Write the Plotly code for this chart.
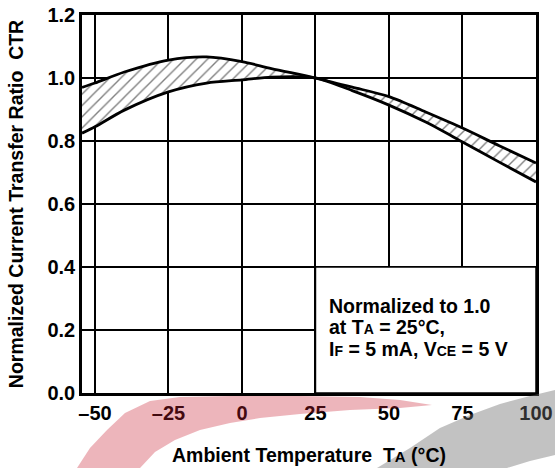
import plotly.graph_objects as go

# ---- data ----
temp = [-54.4, -50, -40, -25, -12, 0, 10, 25, 37.5, 50, 62.5, 75, 87.5, 100]
ctr_upper = [0.970, 0.984, 1.019, 1.057, 1.067, 1.052, 1.030, 1.000, 0.971, 0.941, 0.892, 0.841, 0.785, 0.730]
ctr_lower = [0.825, 0.845, 0.898, 0.956, 0.984, 0.994, 1.003, 1.000, 0.960, 0.914, 0.860, 0.797, 0.733, 0.670]

x_ticks = [-50, -25, 0, 25, 50, 75, 100]
x_ticktext = ["\u201350", "\u201325", "0", "25", "50", "75", "100"]
y_ticks = [0.0, 0.2, 0.4, 0.6, 0.8, 1.0, 1.2]
y_ticktext = ["0.0", "0.2", "0.4", "0.6", "0.8", "1.0", "1.2"]

note_lines = [
    "Normalized to 1.0",
    'at T<span style="font-size:14px">A</span> = 25°C,',
    'I<span style="font-size:14px">F</span> = 5 mA, V<span style="font-size:14px">CE</span> = 5 V',
]

FONT = "Liberation Sans, Arial, sans-serif"
W, H = 555, 468
ML, MR, MT, MB = 82, 19, 15, 75

fig = go.Figure()
fig.add_trace(go.Scatter(
    x=temp, y=ctr_lower, mode="lines",
    line=dict(color="black", width=2.8, shape="spline", smoothing=0.8),
    showlegend=False, hoverinfo="skip"))
fig.add_trace(go.Scatter(
    x=temp, y=ctr_upper, mode="lines", fill="tonexty",
    fillcolor="white",
    fillpattern=dict(shape="/", size=8, solidity=0.17, fgcolor="black", bgcolor="white"),
    line=dict(color="black", width=2.8, shape="spline", smoothing=0.8),
    showlegend=False, hoverinfo="skip"))

# white box for the note (covers gridlines)
fig.add_shape(type="rect", xref="x", yref="y", x0=25, x1=100, y0=0, y1=0.4,
              fillcolor="white", line=dict(color="black", width=1.5), layer="between")

note_y_px = [306, 327, 349]
for txt, py in zip(note_lines, note_y_px):
    fig.add_annotation(text=txt, xref="x", yref="paper", x=29,
                       y=(H - MB - py) / (H - MT - MB),
                       xanchor="left", yanchor="middle", showarrow=False,
                       font=dict(family=FONT, size=19.5, color="black", weight="bold"))

# decorative watermark swooshes (page pixel geometry)
def px_path(pts):
    pw, ph = W - ML - MR, H - MT - MB
    s = ""
    for i, (px, py) in enumerate(pts):
        xx = (px - ML) / pw
        yy = (H - MB - py) / ph
        s += ("M" if i == 0 else "L") + f"{xx:.4f},{yy:.4f} "
    return s + "Z"

red_band = [(77, 468), (90, 448), (107, 430), (125, 413), (150, 401), (180, 397), (230, 396),
            (300, 396), (360, 397), (400, 400), (432, 405),
            (400, 408), (350, 410), (300, 414), (260, 418), (230, 423), (200, 430),
            (175, 440), (155, 452), (140, 468)]
gray_band = [(377, 468), (410, 448), (440, 428), (470, 415), (500, 404), (530, 396), (555, 390),
             (555, 455), (530, 461), (507, 468)]
fig.add_shape(type="path", xref="paper", yref="paper", path=px_path(red_band),
              fillcolor="rgb(200,30,50)", opacity=0.33, line=dict(width=0), layer="above")
fig.add_shape(type="path", xref="paper", yref="paper", path=px_path(gray_band),
              fillcolor="rgb(110,110,110)", opacity=0.42, line=dict(width=0), layer="above")

axis_common = dict(showgrid=True, gridcolor="black", gridwidth=1.5, zeroline=False,
                   showline=True, linecolor="black", linewidth=2.5, mirror=True,
                   automargin=False, ticklabeloverflow="allow",
                   ticks="", tickfont=dict(family=FONT, size=20, color="black", weight="bold"))

fig.update_layout(
    width=W, height=H,
    margin=dict(l=ML, r=MR, t=MT, b=MB),
    paper_bgcolor="white", plot_bgcolor="white",
    xaxis=dict(range=[-54.4, 100], tickvals=x_ticks, ticktext=x_ticktext,
               title=dict(text='Ambient Temperature  T<span style="font-size:15px">A</span> (°C)',
                          font=dict(family=FONT, size=19.5, color="black", weight="bold"),
                          standoff=26),
               **axis_common),
    yaxis=dict(range=[0, 1.2], tickvals=y_ticks, ticktext=y_ticktext,
               title=dict(text="Normalized Current Transfer Ratio  CTR",
                          font=dict(family=FONT, size=19.5, color="black", weight="bold"),
                          standoff=19),
               **axis_common),
)

fig.write_html("out.html", config={"displayModeBar": False},
               post_script="document.body.style.margin='0';document.body.style.overflow='hidden';")
